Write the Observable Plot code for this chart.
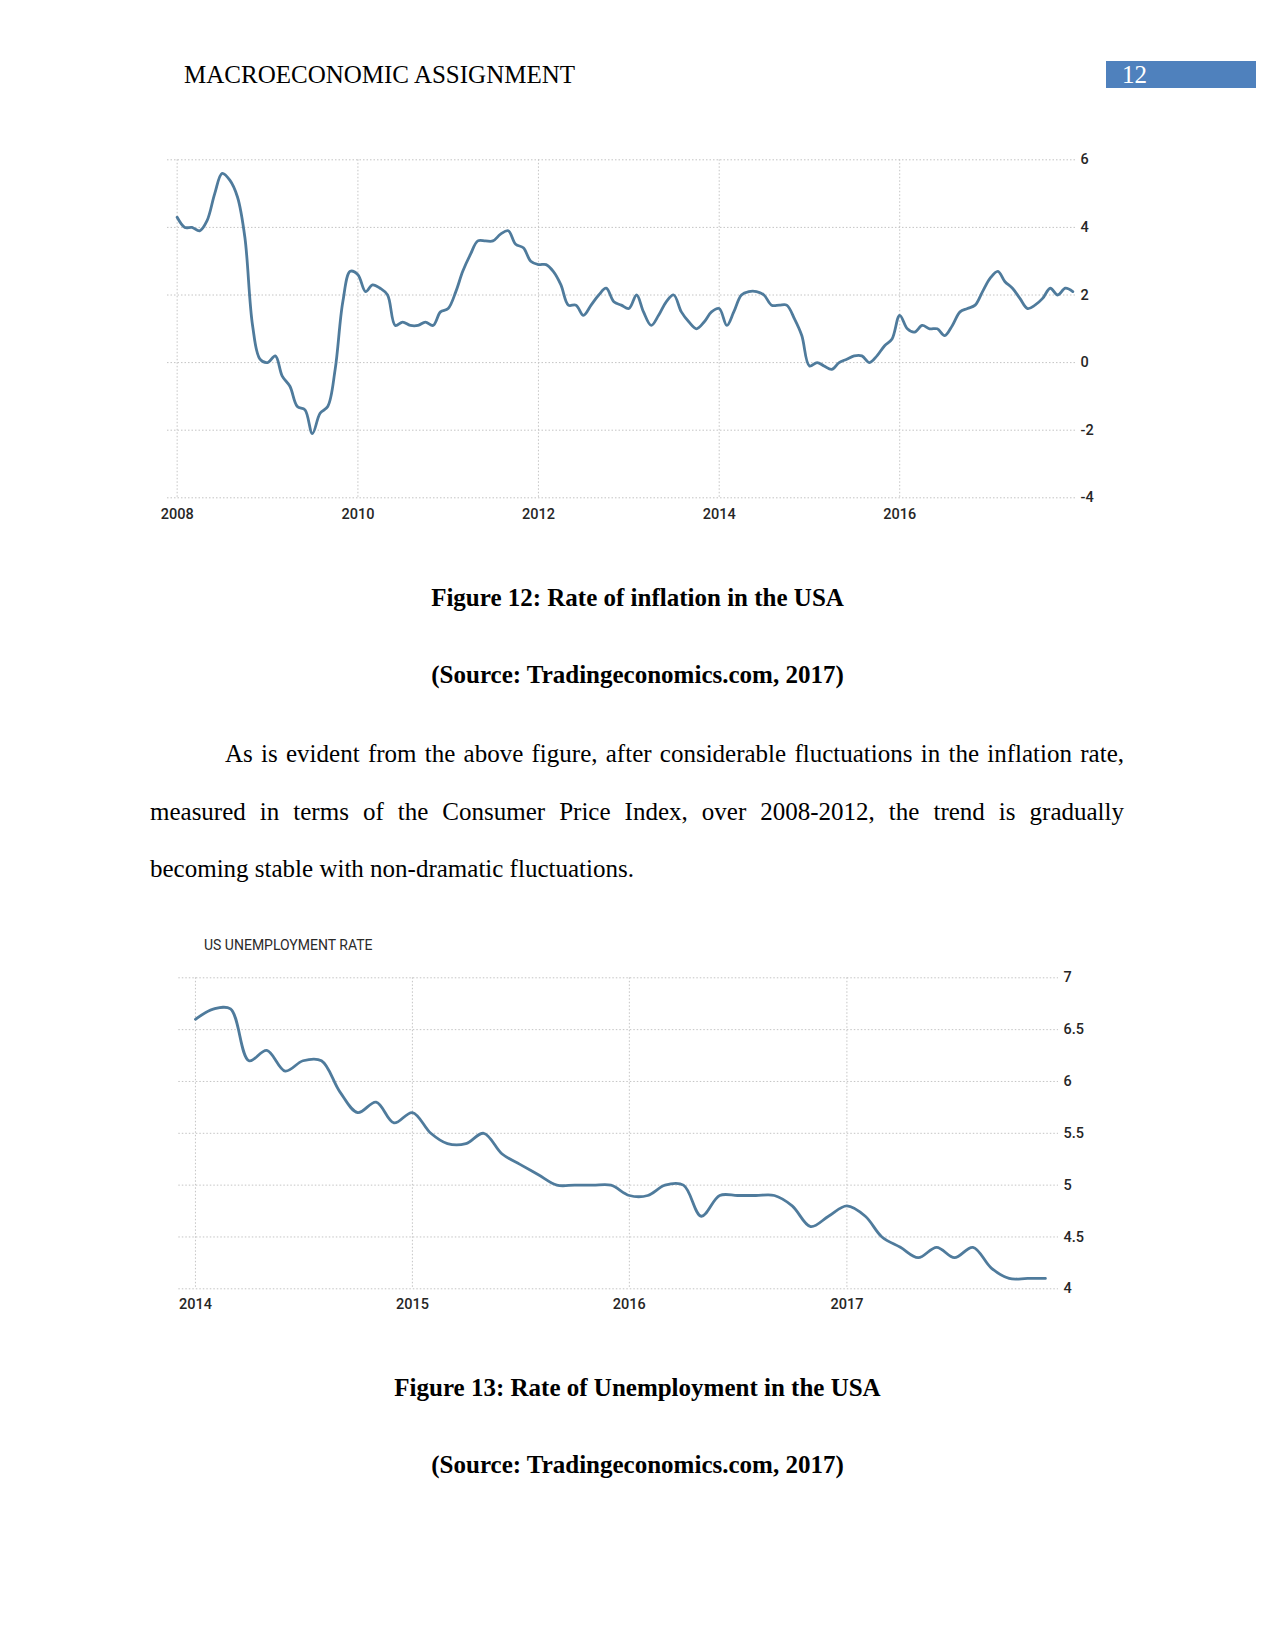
<!DOCTYPE html>
<html>
<head>
<meta charset="utf-8">
<script src="https://cdn.jsdelivr.net/npm/d3@7"></script>
<script src="https://cdn.jsdelivr.net/npm/@observablehq/plot@0.6"></script>
<style>
  html, body { margin: 0; padding: 0; background: #fff; }
  #page { position: relative; width: 1275px; height: 1650px; overflow: hidden; background: #fff;
          font-family: "Liberation Serif", "Times New Roman", serif; color: #000; }
  .abs { position: absolute; white-space: nowrap; font-size: 25px; line-height: 25px; }
  .cap { left: 0; width: 1275px; text-align: center; font-weight: bold; }
  .para { left: 150px; width: 974px; text-align: justify; text-align-last: justify; }
  .chart { position: absolute; }
  #title2 { position: absolute; left: 204px; top: 937px; font-family: Roboto, "DejaVu Sans", sans-serif;
            font-size: 14px; font-weight: 400; color: #2a2a2a; white-space: nowrap; }
</style>
</head>
<body>
<div id="page">
  <div class="abs" style="left:184px; top:62px;">MACROECONOMIC ASSIGNMENT</div>
  <div style="position:absolute; left:1106px; top:61px; width:150px; height:27px; background:#4f81bd;"></div>
  <div class="abs" style="left:1122px; top:62px; color:#fff;">12</div>

  <div id="chart1" class="chart" style="left:150px; top:140px;"></div>

  <div class="abs cap" style="top:585px;">Figure 12: Rate of inflation in the USA</div>
  <div class="abs cap" style="top:662px;">(Source: Tradingeconomics.com, 2017)</div>

  <div class="abs para" style="top:741px; text-indent:75px;">As is evident from the above figure, after considerable fluctuations in the inflation rate,</div>
  <div class="abs para" style="top:799px;">measured in terms of the Consumer Price Index, over 2008-2012, the trend is gradually</div>
  <div class="abs" style="left:150px; top:856px;">becoming stable with non-dramatic fluctuations.</div>

  <div id="title2">US UNEMPLOYMENT RATE</div>
  <div id="chart2" class="chart" style="left:150px; top:920px;"></div>

  <div class="abs cap" style="top:1375px;">Figure 13: Rate of Unemployment in the USA</div>
  <div class="abs cap" style="top:1452px;">(Source: Tradingeconomics.com, 2017)</div>
</div>
<script>
// ---------- Data ----------
// US inflation rate (CPI, % y/y), monthly Jan 2008 – Dec 2017
const inflationStart = "2008-01";
const inflation = [
  4.3, 4.0, 4.0, 3.9, 4.2, 5.0, 5.6, 5.4, 4.9, 3.7, 1.1, 0.1,     // 2008
  0.0, 0.2, -0.4, -0.7, -1.3, -1.4, -2.1, -1.5, -1.3, -0.2, 1.8, 2.7, // 2009
  2.6, 2.1, 2.3, 2.2, 2.0, 1.1, 1.2, 1.1, 1.1, 1.2, 1.1, 1.5,     // 2010
  1.6, 2.1, 2.7, 3.2, 3.6, 3.6, 3.6, 3.8, 3.9, 3.5, 3.4, 3.0,     // 2011
  2.9, 2.9, 2.7, 2.3, 1.7, 1.7, 1.4, 1.7, 2.0, 2.2, 1.8, 1.7,     // 2012
  1.6, 2.0, 1.5, 1.1, 1.4, 1.8, 2.0, 1.5, 1.2, 1.0, 1.2, 1.5,     // 2013
  1.6, 1.1, 1.5, 2.0, 2.1, 2.1, 2.0, 1.7, 1.7, 1.7, 1.3, 0.8,     // 2014
  -0.1, 0.0, -0.1, -0.2, 0.0, 0.1, 0.2, 0.2, 0.0, 0.2, 0.5, 0.7,  // 2015
  1.4, 1.0, 0.9, 1.1, 1.0, 1.0, 0.8, 1.1, 1.5, 1.6, 1.7, 2.1,     // 2016
  2.5, 2.7, 2.4, 2.2, 1.9, 1.6, 1.7, 1.9, 2.2, 2.0, 2.2, 2.1      // 2017
];
const inflationXTicks = ["2008", "2010", "2012", "2014", "2016"];
const inflationYTicks = [-4, -2, 0, 2, 4, 6];

// US unemployment rate (%), monthly Jan 2014 – Dec 2017
const unemploymentStart = "2014-01";
const unemployment = [
  6.6, 6.7, 6.7, 6.2, 6.3, 6.1, 6.2, 6.2, 5.9, 5.7, 5.8, 5.6,   // 2014
  5.7, 5.5, 5.4, 5.4, 5.5, 5.3, 5.2, 5.1, 5.0, 5.0, 5.0, 5.0,   // 2015
  4.9, 4.9, 5.0, 5.0, 4.7, 4.9, 4.9, 4.9, 4.9, 4.8, 4.6, 4.7,   // 2016
  4.8, 4.7, 4.5, 4.4, 4.3, 4.4, 4.3, 4.4, 4.2, 4.1, 4.1, 4.1    // 2017
];
const unemploymentXTicks = ["2014", "2015", "2016", "2017"];
const unemploymentYTicks = [4, 4.5, 5, 5.5, 6, 6.5, 7];

// ---------- Helpers ----------
const parseMonth = d3.utcParse("%Y-%m");
const parseYear = d3.utcParse("%Y");
function monthly(start, values) {
  const t0 = parseMonth(start);
  return values.map((v, i) => ({ date: d3.utcMonth.offset(t0, i), value: v }));
}
const LINE = "#4f7b9c";
const GRID = "#c4c4c4";
const TICKFONT = { fontSize: 14.5, fontWeight: 500, fill: "#262626" };
const svgStyle = { fontFamily: "Roboto, 'DejaVu Sans', sans-serif", fontSize: "14.5px", color: "#262626", background: "transparent", overflow: "visible" };
const plain = d => String(d);

// ---------- Chart 1: inflation ----------
{
  const data = monthly(inflationStart, inflation);
  const xt = inflationXTicks.map(parseYear);
  const chart = Plot.plot({
    width: 960, height: 400,
    marginLeft: 17, marginRight: 33, marginTop: 19.3, marginBottom: 42.7,
    style: svgStyle,
    x: { type: "utc", domain: [new Date(Date.UTC(2007, 10, 23)), new Date(Date.UTC(2017, 11, 20))], label: null },
    y: { domain: [-4, 6], label: null },
    marks: [
      Plot.ruleY(inflationYTicks, { stroke: GRID, strokeDasharray: "1.5,2" }),
      Plot.ruleX(xt, { stroke: GRID, strokeDasharray: "1.5,2" }),
      Plot.axisX(xt, { tickSize: 0, tickPadding: 10.5, tickFormat: d3.utcFormat("%Y"), label: null, ...TICKFONT }),
      Plot.axisY(inflationYTicks, { anchor: "right", tickSize: 0, tickPadding: 3, tickFormat: plain, label: null, ...TICKFONT }),
      Plot.line(data, { x: "date", y: "value", stroke: LINE, strokeWidth: 2.8, curve: "catmull-rom" })
    ]
  });
  document.getElementById("chart1").appendChild(chart);
}

// ---------- Chart 2: unemployment ----------
{
  const data = monthly(unemploymentStart, unemployment);
  const xt = unemploymentXTicks.map(parseYear);
  const chart = Plot.plot({
    width: 960, height: 400,
    marginLeft: 28.3, marginRight: 52, marginTop: 57.3, marginBottom: 31.7,
    style: svgStyle,
    x: { type: "utc", domain: [new Date(Date.UTC(2013, 11, 4)), new Date(Date.UTC(2017, 11, 23))], label: null },
    y: { domain: [4, 7], label: null },
    marks: [
      Plot.ruleY(unemploymentYTicks, { stroke: GRID, strokeDasharray: "1.5,2" }),
      Plot.ruleX(xt, { stroke: GRID, strokeDasharray: "1.5,2" }),
      Plot.axisX(xt, { tickSize: 0, tickPadding: 9.5, tickFormat: d3.utcFormat("%Y"), label: null, ...TICKFONT }),
      Plot.axisY(unemploymentYTicks, { anchor: "right", tickSize: 0, tickPadding: 5, tickFormat: plain, label: null, ...TICKFONT }),
      Plot.line(data, { x: "date", y: "value", stroke: LINE, strokeWidth: 2.8, curve: "catmull-rom" })
    ]
  });
  document.getElementById("chart2").appendChild(chart);
}
</script>
</body>
</html>
